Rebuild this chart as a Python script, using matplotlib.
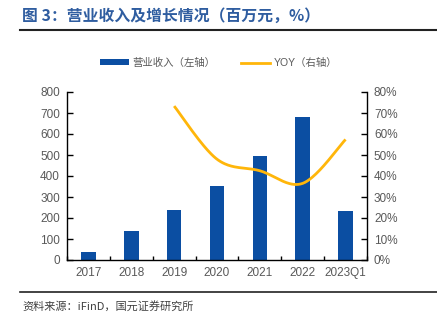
import numpy as np
import matplotlib
matplotlib.use("Agg")
import matplotlib.pyplot as plt
from matplotlib.patches import Patch
from matplotlib.lines import Line2D

plt.rcParams['font.family'] = ['Liberation Sans', 'Noto Sans CJK SC', 'DejaVu Sans']

categories = ['2017', '2018', '2019', '2020', '2021', '2022', '2023Q1']
revenue = [39, 138, 237, 351, 497, 680, 235]
yoy_cats = ['2019', '2020', '2021', '2022', '2023Q1']
yoy = [73.3, 48.0, 42.5, 36.5, 57.4]

bar_color = '#0B4EA2'
line_color = '#FFB60A'
tick_color = '#595959'

fig = plt.figure(figsize=(4.37, 3.21), dpi=100)
ax = fig.add_axes([67/437, 1-260/321, 300/437, 168/321])
x = np.arange(len(categories))
ax.bar(x, revenue, width=0.34, color=bar_color, zorder=2)
ax.set_xlim(-0.5, len(categories)-0.5)
ax.set_ylim(0, 800)
ax.set_yticks(np.arange(0, 801, 100))
ax.set_xticks(x)
ax.set_xticklabels(categories)
ax.set_xticks(np.arange(-0.5, len(categories), 1), minor=True)
ax.tick_params(axis='x', which='major', length=0, labelsize=8.5, labelcolor=tick_color, pad=5)
ax.tick_params(axis='x', which='minor', direction='in', length=3, width=1)
ax.tick_params(axis='y', direction='in', length=4, width=1, labelsize=8.5, labelcolor=tick_color, pad=5)
for s in ['top', 'right']:
    ax.spines[s].set_visible(False)
ax.spines['left'].set_linewidth(1)
ax.spines['bottom'].set_linewidth(1)

ax2 = ax.twinx()
ax2.set_ylim(0, 80)
ax2.set_yticks(np.arange(0, 81, 10))
ax2.set_yticklabels([f'{v}%' for v in range(0, 81, 10)])
ax2.tick_params(axis='y', direction='in', length=4, width=1, labelsize=8.5, labelcolor=tick_color, pad=5)
for s in ['top', 'left', 'bottom']:
    ax2.spines[s].set_visible(False)
ax2.spines['right'].set_linewidth(1)

# smooth line (Catmull-Rom through the data points)
px = np.array([categories.index(c) for c in yoy_cats], dtype=float)
py = np.array(yoy, dtype=float)
P = np.column_stack([px, py])
Pext = np.vstack([P[0], P, P[-1]])
xs, ys = [], []
for i in range(1, len(Pext)-2):
    p0, p1, p2, p3 = Pext[i-1], Pext[i], Pext[i+1], Pext[i+2]
    t = np.linspace(0, 1, 40)[:, None]
    c = 0.5*((2*p1) + (-p0+p2)*t + (2*p0-5*p1+4*p2-p3)*t**2 + (-p0+3*p1-3*p2+p3)*t**3)
    xs.extend(c[:, 0]); ys.extend(c[:, 1])
ax2.plot(xs, ys, color=line_color, lw=2, solid_capstyle='butt', zorder=3)

# title & decorations
fig.text(22/437, 1-16/321, '图 3：营业收入及增长情况（百万元，%）', fontsize=11.4,
         fontweight='bold', color='#2F5DA0', va='center', ha='left',
         family=['Noto Sans CJK SC'])
fig.add_artist(Line2D([20/437, 1], [1-30/321]*2, color='#222222', lw=1.5))
fig.add_artist(Line2D([20/437, 1], [1-292/321]*2, color='#222222', lw=1.2))
fig.text(22/437, 1-306/321, '资料来源：iFinD，国元证券研究所', fontsize=8,
         color='#404040', va='center', ha='left', family=['Noto Sans CJK SC'])

handles = [Patch(facecolor=bar_color, edgecolor='none'),
           Line2D([0], [0], color=line_color, lw=2)]
fig.legend(handles, ['营业收入（左轴）', 'YOY（右轴）'], loc='center',
           bbox_to_anchor=(0.5, 1-63/321), ncol=2, frameon=False,
           prop={'size': 7.5, 'family': ['Liberation Sans', 'Noto Sans CJK SC']},
           handlelength=2.8, handleheight=0.5, columnspacing=2.5, handletextpad=0.3,
           labelcolor=tick_color)

fig.savefig('out.png', dpi=100)
